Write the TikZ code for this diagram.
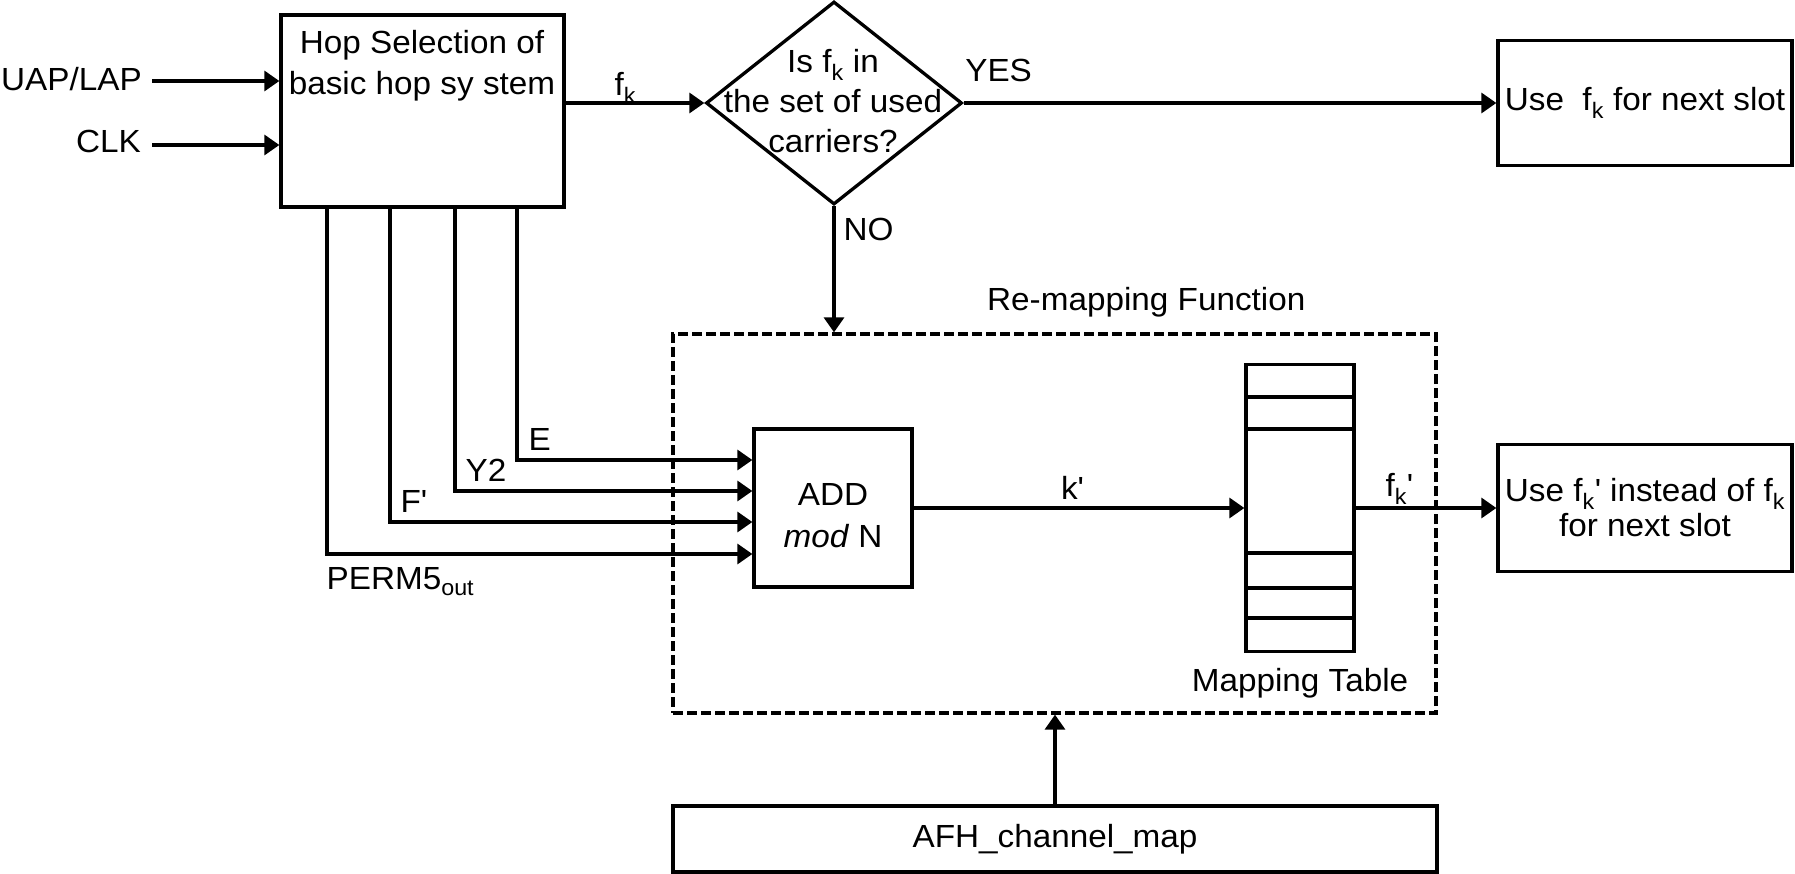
\documentclass[tikz,border=0pt]{standalone}
\usepackage{fontspec}
\setmainfont{Liberation Sans}[FakeStretch=1.04]
\usetikzlibrary{arrows.meta,positioning,shapes.geometric}

\newcommand{\apos}{\textquotesingle}

\begin{document}
\begin{tikzpicture}[x=1pt,y=-1pt,font=\fontsize{32}{40}\selectfont,
	blk/.style={draw,line width=3.3pt,inner sep=0pt,align=center},
	dashbox/.style={draw,dash pattern=on 10pt off 4pt,line width=3.3pt,inner sep=0pt},
	txt/.style={inner sep=0pt,align=center},
	arr/.style={line width=3.3pt,-{Triangle[length=15pt,width=20pt]}},
	wire/.style={line width=3.3pt}]
	\useasboundingbox (0,0) rectangle (1795,874);
	% top row
	\node[blk,minimum width=283,minimum height=192] (hop) at (422.5,111) {};
	\node[txt,font=\fontsize{32}{41}\selectfont] (hoptxt) at (422,66) {Hop Selection of\\basic hop sy stem};
	\node[blk,diamond,minimum width=256,minimum height=203] (check) at (834,103) {};
	\node[txt] (checktxt) at (833,101) {Is f\textsubscript{k} in\\the set of used\\carriers?};
	\node[blk,minimum width=294,minimum height=125] (usefk) at (1645,103) {Use~~f\textsubscript{k} for next slot};
	\node[txt,anchor=east] (uap) at (142,79) {UAP/LAP};
	\node[txt,anchor=east] (clk) at (141,141) {CLK};
	\coordinate (uapin) at ([xshift=10pt,yshift=-2pt]uap.east);
	\coordinate (clkin) at ([xshift=11pt,yshift=-4pt]clk.east);
	\draw[arr] (uapin) -- (uapin -| hop.west);
	\draw[arr] (clkin) -- (clkin -| hop.west);
	\draw[arr] (hop.east |- check.west) -- node[txt,pos=0.43,above=-2pt] (fklbl) {f\textsubscript{k}} (check.west);
	\draw[arr] (check.east) -- node[txt,pos=0,anchor=south west,yshift=20pt] (yeslbl) {YES} (usefk.west);
	% re-mapping block
	\node[dashbox,minimum width=763,minimum height=379] (remap) at (1054.5,523.5) {};
	\node[txt,anchor=west] (remaplbl) at (987,302) {Re-mapping Function};
	\draw[arr] (check.south) -- node[txt,pos=0,anchor=north west,xshift=8pt,yshift=-10pt] (nolbl) {NO} (check.south |- remap.north);
	\node[blk,minimum width=158,minimum height=158] (add) at (833,508) {};
	\node[txt,font=\fontsize{32}{42}\selectfont] (addtxt) at (833,516) {ADD\\\textit{mod} N};
	\node[blk,minimum width=108,minimum height=287] (table) at (1300,508) {};
	\draw[wire] (table.west |- 0,397) -- (table.east |- 0,397)
		(table.west |- 0,429) -- (table.east |- 0,429)
		(table.west |- 0,553) -- (table.east |- 0,553)
		(table.west |- 0,588) -- (table.east |- 0,588)
		(table.west |- 0,618) -- (table.east |- 0,618);
	\node[txt,below=15pt of table] (tablelbl) {Mapping Table};
	\node[blk,minimum width=294,minimum height=127,font=\fontsize{32}{35}\selectfont] (usefkp) at (1645,508) {Use f\textsubscript{k}\apos{} instead of f\textsubscript{k}\\for next slot};
	\node[blk,minimum width=764,minimum height=66] (afh) at (1055,839) {AFH\_channel\_map};
	% inputs of the adder
	\draw[arr] (hop.south -| 517,0) |- node[txt,pos=0.5,anchor=south west,xshift=10pt,yshift=8pt] (elbl) {E} (add.west |- 0,460);
	\draw[arr] (hop.south -| 455,0) |- node[txt,pos=0.5,anchor=south west,xshift=9pt,yshift=8pt] (ylbl) {Y2} (add.west |- 0,491);
	\draw[arr] (hop.south -| 390,0) |- node[txt,pos=0.5,anchor=south west,xshift=9pt,yshift=8pt] (flbl) {F\apos} (add.west |- 0,522);
	\draw[arr] (hop.south -| 327,0) |- node[txt,pos=0.5,anchor=north west,xshift=-2pt,yshift=-12pt] (permlbl) {PERM5\textsubscript{out}} (add.west |- 0,554);
	\draw[arr] (add.east) -- node[txt,pos=0.48,above=7pt] (kplbl) {k\apos} (add.east -| table.west);
	\draw[arr] (table.east) -- node[txt,pos=0.31,above=2pt] (fkplbl) {f\textsubscript{k}\apos} (usefkp.west);
	\draw[arr] (afh.north) -- (afh.north |- remap.south);
\end{tikzpicture}
\end{document}
